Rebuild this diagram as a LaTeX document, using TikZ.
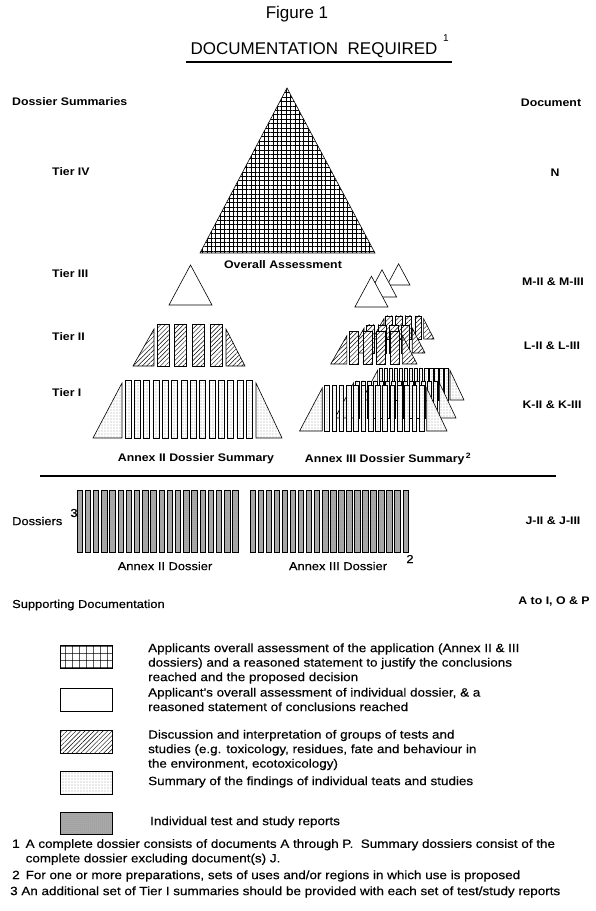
\documentclass[tikz,border=0pt]{standalone}
\usepackage{fontspec}
\setmainfont{Liberation Sans}[FakeStretch=1.12, UprightFeatures={FakeBold=0.35}]
\newfontfamily\titlefont{Liberation Sans}
\usetikzlibrary{patterns,patterns.meta}

\begin{document}
\begin{tikzpicture}[x=1pt, y=-1pt,
  hdr/.style    = {font=\bfseries\fontsize{11}{13}\selectfont, inner sep=0pt},
  lbl/.style    = {font=\fontsize{11.5}{13}\selectfont, inner sep=0pt},
  leg/.style    = {font=\fontsize{12}{14.5}\selectfont, anchor=west, align=left, inner sep=0pt},
  gridbox/.style  = {draw, line width=0.6pt, preaction={fill=white},
                     pattern={Hatch[distance=4.4pt, line width=0.45pt]}},
  plainbox/.style = {draw, line width=0.6pt, fill=white},
  hatchbox/.style = {draw, line width=0.6pt, preaction={fill=white},
                     pattern={Lines[angle=45, distance=3.2pt, line width=0.45pt]}},
  dotbox/.style   = {draw, line width=0.6pt, preaction={fill=white},
                     pattern={Dots[radius=0.35pt, distance=3pt]}},
  darkbox/.style  = {draw, line width=0.9pt, preaction={fill=gray!65},
                     pattern={Dots[radius=0.5pt, distance=2pt]}, pattern color=black!50},
  keybox/.style   = {minimum width=52pt, minimum height=23pt, inner sep=0pt},
  tierone/.pic = {
    \draw[dotbox] (-189,0) -- (-160,-55) -- (-160,0) -- cycle;
    \foreach \k in {0,...,13}
      \draw[dotbox] ({-157+9.33*\k},-58) rectangle ++(6,58);
    \draw[dotbox] (-26,-55) -- (-26,0) -- (0,0) -- cycle;
  },
  tiertwo/.pic = {
    \draw[hatchbox] (-112,0) -- (-91,-37) -- (-91,0) -- cycle;
    \foreach \k in {0,...,3}
      \draw[hatchbox] ({-88+17.7*\k},-42) rectangle ++(12,42);
    \draw[hatchbox] (-19,-37) -- (-19,0) -- (0,0) -- cycle;
  },
  tierthree/.pic = {
    \draw[plainbox] (-43,0) -- (-21.5,-40) -- (0,0) -- cycle;
  }
]
  \useasboundingbox (0,0) rectangle (595,911);

  \node[font=\titlefont\fontsize{17}{20}\selectfont] (fig) at (297,14) {Figure 1};
  \node[font=\titlefont\fontsize{17}{20}\selectfont] (title) at (314,50) {DOCUMENTATION\ \ REQUIRED};
  \node[font=\titlefont\fontsize{10}{12}\selectfont] (fn1mark) at (446,38) {1};
  \draw[line width=1.2pt] (186,62) -- (452,62);

  \node[hdr, anchor=west] (dsum) at (12,102) {Dossier Summaries};
  \node[hdr] (docu) at (551,103) {Document};

  \foreach \y/\s/\n in {172/Tier IV/t4, 274/Tier III/t3, 337/Tier II/t2, 393/Tier I/t1}{
    \node[hdr, anchor=west] (\n) at (52,\y) {\s};
  }
  \node[hdr] (dN) at (555,173) {N};
  \node[hdr] (dM) at (553,282) {M-II \& M-III};
  \node[hdr] (dL) at (552,346) {L-II \& L-III};
  \node[hdr] (dK) at (552,405) {K-II \& K-III};

  % tier IV
  \draw[gridbox] (287,88) -- (375,253) -- (200,253) -- cycle;
  \node[hdr] (overall) at (283,265) {Overall Assessment};

  % annex II summary
  \pic at (212,305) {tierthree};
  \pic at (245,366) {tiertwo};
  \pic at (282,438) {tierone};

  % annex III summary, stacked sets
  \pic[scale=0.53] at (410,285) {tierthree};
  \pic[scale=0.68] at (396.6,297) {tierthree};
  \pic[scale=0.77] at (388,307) {tierthree};
  \pic[scale=0.55] at (434,339) {tiertwo};
  \pic[scale=0.67] at (425,353) {tiertwo};
  \pic[scale=0.77] at (417,364) {tiertwo};
  \pic[scale=0.54] at (464,400) {tierone};
  \pic[scale=0.64] at (456,418) {tierone};
  \pic[scale=0.78] at (447,431) {tierone};

  \node[hdr] (sum2) at (196,459) {Annex II Dossier Summary};
  \node[hdr] (sum3) at (388,459) {Annex III Dossier Summary\textsuperscript{\,2}};
  \draw[line width=1.4pt] (40,476) -- (556,476);

  % dossiers
  \foreach \k in {0,...,19}{
    \draw[darkbox] ({77+8.2*\k},490) rectangle ++(5.5,62);
    \draw[darkbox] ({250+8.05*\k},490) rectangle ++(5.5,62);
  }
  \node[lbl, anchor=west] (doss) at (12,521) {Dossiers};
  \node[lbl] (fn3mark) at (74,513) {3};
  \node[hdr] (dJ) at (553,521) {J-II \& J-III};
  \node[lbl] (adoss2) at (165,566) {Annex II Dossier};
  \node[lbl] (adoss3) at (338,566) {Annex III Dossier};
  \node[lbl] (fn2mark) at (410,559) {2};

  \node[lbl, anchor=west] (supp) at (12,605) {Supporting Documentation};
  \node[hdr] (dA) at (554,602) {A to I, O \& P};

  % key
  \node[keybox, draw, line width=0.8pt, preaction={fill=white},
        pattern={Hatch[distance=7.4pt, line width=0.5pt]}] (kgrid) at (86,656.5) {};
  \node[keybox, draw, line width=0.8pt, fill=white] (kplain) at (86,700) {};
  \node[keybox, hatchbox, line width=0.8pt] (khatch) at (86,742) {};
  \node[keybox, dotbox, line width=0.8pt] (kdot) at (86,782.5) {};
  \node[keybox, darkbox, minimum height=22pt] (kdark) at (86,823) {};

  \node[leg] (lgrid) at (148,663.5) {Applicants overall assessment of the application (Annex II \& III\\
    dossiers) and a reasoned statement to justify the conclusions\\reached and the proposed decision};
  \node[leg] (lplain) at (148,699.5) {Applicant's overall assessment of individual dossier, \& a\\
    reasoned statement of conclusions reached};
  \node[leg] (lhatch) at (148,750) {Discussion and interpretation of groups of tests and\\
    studies (e.g. toxicology, residues, fate and behaviour in\\the environment, ecotoxicology)};
  \node[leg] (ldot) at (148,782) {Summary of the findings of individual teats and studies};
  \node[leg] (ldark) at (150,822) {Individual test and study reports};

  % footnotes
  \node[leg] (fn1) at (12,852) {1\enspace A complete dossier consists of documents A through P.\ \ Summary dossiers consist of the\\
    \phantom{1\enspace }complete dossier excluding document(s) J.};
  \node[leg] (fn2) at (12,876) {2\enspace For one or more preparations, sets of uses and/or regions in which use is proposed};
  \node[leg] (fn3) at (10,892) {3 An additional set of Tier I summaries should be provided with each set of test/study reports};
\end{tikzpicture}
\end{document}
